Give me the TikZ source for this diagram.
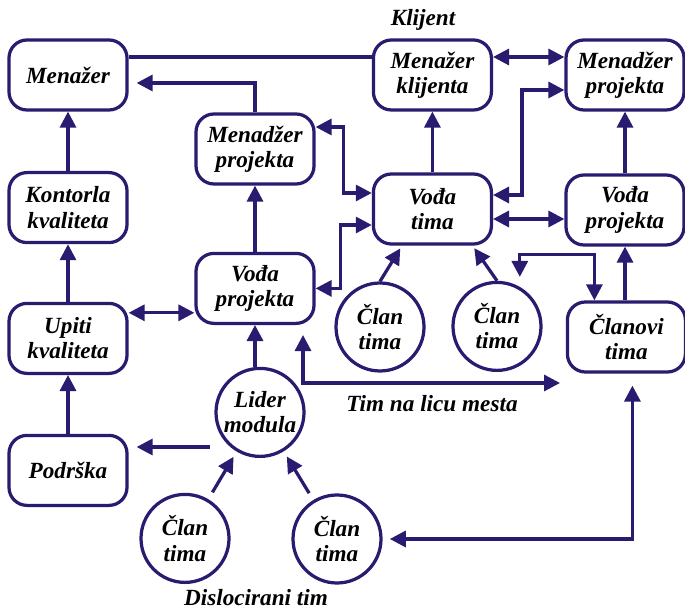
\documentclass[tikz,border=0pt]{standalone}
\usepackage{fontspec}
\setmainfont{Liberation Serif}[BoldItalicFont={Liberation Serif Bold Italic}]
\usepackage{xcolor}
\definecolor{plava}{RGB}{42,26,112}
\usetikzlibrary{positioning,arrows.meta,calc}

\begin{document}
\begin{tikzpicture}[>={Triangle[length=0.4cm,width=0.4cm]},line width=2.3pt,
    every node/.style={font=\fontsize{16.5}{18}\selectfont\bfseries\itshape},
    rbox/.style={draw=plava,fill=white,rounded corners=0.45cm,minimum width=2.95cm,minimum height=1.75cm,align=center,inner sep=0pt},
    cnode/.style={circle,draw=plava,fill=white,minimum size=2.2cm,align=center,inner sep=0pt},
    veza/.style={draw=plava}]
    \useasboundingbox (0,0) rectangle (17.125,15.25);

    % leva kolona
    \node[rbox] (men) at (1.7,13.375) {Menažer};
    \node[rbox] (kk) at (1.7,10.06) {Kontorla\\kvaliteta};
    \node[rbox] (uk) at (1.7,6.79) {Upiti\\kvaliteta};
    \node[rbox] (pod) at (1.7,3.49) {Podrška};

    % srednja kolona
    \node[rbox] (mpl) at (6.375,11.525) {Menadžer\\projekta};
    \node[rbox] (vpl) at (6.375,8.04) {Vođa\\projekta};
    \node[cnode] (lm) at (6.5,4.94) {Lider\\modula};
    \node[cnode] (cbl) at (4.625,1.79) {Član\\tima};
    \node[cnode] (cbm) at (8.425,1.775) {Član\\tima};

    % klijent
    \node[rbox] (mk) at (10.81,13.375) {Menažer\\klijenta};
    \node[rbox] (vt) at (10.81,10.025) {Vođa\\tima};
    \node[cnode] (cml) at (9.5,7.075) {Član\\tima};
    \node[cnode] (cmr) at (12.425,7.09) {Član\\tima};

    % desna kolona
    \node[rbox] (mpr) at (15.625,13.375) {Menadžer\\projekta};
    \node[rbox] (vpr) at (15.625,10.0) {Vođa\\projekta};
    \node[rbox] (clt) at (15.66,6.825) {Članovi\\tima};

    % natpisi
    \node (kl) at (10.575,14.75) {Klijent};
    \node (tlm) at (10.8,5.15) {Tim na licu mesta};
    \node (dt) at (6.4,0.3) {Dislocirani tim};
    \coordinate (tlmk) at (14.0,5.675);
    \coordinate (lmw) at (5.25,4.075);

    % leva strana
    \draw[veza] ([yshift=0.45cm]men.east) -- ([yshift=0.45cm]mk.west);
    \draw[veza,->] (mpl.north) |- ([yshift=-0.2cm,xshift=0.2cm]men.east);
    \draw[veza,->] (kk) -- (men);
    \draw[veza,->] (uk) -- (kk);
    \draw[veza,->] (pod) -- (uk);
    \draw[veza,<->] ([yshift=0.64cm]uk.east) -- ([yshift=0.64cm]uk.east -| vpl.west);
    \draw[veza,->] (vpl) -- (mpl);
    \draw[veza,->] (vpl.south |- lm.north) -- (vpl.south);
    \draw[veza,->,shorten >=0.2cm] (lmw) -- (lmw -| pod.east);
    \draw[veza,->,shorten <=0.2cm,shorten >=0.15cm] (cbl) -- (lm);
    \draw[veza,->,shorten <=0.2cm,shorten >=0.15cm] (cbm) -- (lm);

    % tim na licu mesta
    \draw[veza,<->,shorten >=0.25cm] (tlmk) -| ([xshift=1.2cm]vpl.south);
    \draw[veza,<->,shorten <=0.18cm,shorten >=0.3cm] (cbm.east) -| ([xshift=0.15cm]clt.south);
    \draw[veza,<->] ([yshift=0.55cm]mpl.east) -- ++(0.7,0) |- ([yshift=0.4cm]vt.west);
    \draw[veza,<->] (vpl.east) -- ++(0.625,0) |- ([yshift=-0.4cm]vt.west);
    \draw[veza,->,shorten >=0.08cm] (cml.north) -- ([xshift=-0.76cm]vt.south);
    \draw[veza,->,shorten >=0.08cm] (cmr.north) -- ([xshift=1.0cm]vt.south);

    % desna strana
    \draw[veza,->] (vt) -- (mk);
    \draw[veza,<->] ([yshift=0.45cm]mk.east) -- ([yshift=0.45cm]mpr.west);
    \draw[veza,<->] ([yshift=0.35cm]vt.east) -- ++(0.725,0) |- ([yshift=-0.375cm]mpr.west);
    \draw[veza,<->] ([yshift=-0.25cm]vt.east) -- ([yshift=-0.25cm]vt.east -| vpr.west);
    \draw[veza,->] (vpr) -- (mpr);
    \draw[veza,->] (clt.north -| vpr.south) -- (vpr.south);
    \draw[veza,<->,shorten <=0.25cm] (cmr.60) -- ++(0,0.81) -| ([xshift=-0.8cm]clt.north);
\end{tikzpicture}
\end{document}
